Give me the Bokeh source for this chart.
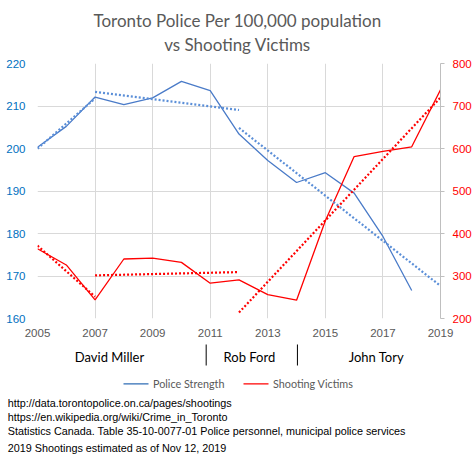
import numpy as np
from bokeh.plotting import figure
from bokeh.layouts import column
from bokeh.models import Range1d, LinearAxis, Label, FixedTicker
from bokeh.embed import file_html
from bokeh.resources import INLINE

# ---------------- data ----------------
years = list(range(2005, 2020))
police_years = list(range(2005, 2019))
police_strength = [200.3, 205.2, 212.1, 210.3, 211.9, 215.8, 213.6,
                   203.4, 197.2, 192.0, 194.3, 189.5, 179.3, 166.6]
shooting_victims = [364, 326, 244, 340, 342, 332, 283,
                    291, 256, 243, 430, 581, 593, 604, 738]
trend_segments = [(2005, 2007), (2007, 2012), (2012, 2019)]
x_ticks = [2005, 2007, 2009, 2011, 2013, 2015, 2017, 2019]
left_ticks = [160, 170, 180, 190, 200, 210, 220]
right_ticks = [200, 300, 400, 500, 600, 700, 800]
mayors = ["David Miller", "Rob Ford", "John Tory"]
mayor_centers = [2007.5, 2012.36, 2016.77]
term_breaks = [2010.86, 2014.03]
series_names = ["Police Strength", "Shooting Victims"]
title_lines = ["Toronto Police Per 100,000 population", "vs Shooting Victims"]
sources = ["http://data.torontopolice.on.ca/pages/shootings",
           "https://en.wikipedia.org/wiki/Crime_in_Toronto",
           "Statistics Canada. Table  35-10-0077-01 Police personnel, municipal police services",
           "2019 Shootings estimated as of Nov 12, 2019"]

BLUE = "#4a7bc8"
BLUE_DOT = "#5b8fd8"
BLUE_LEG = "#2f6db5"
RED = "#ff0000"
GRID = "#d9d9d9"
GRAY_TXT = "#595959"
W = 476
YPX = 403 / 14.0  # pixels per year on the shared x scale


def px2yr(px):
    return 2005 + (px - 37) / YPX


def blank(height, x_range, y_range):
    f = figure(width=W, height=height, x_range=x_range, y_range=y_range,
               output_backend="svg", toolbar_location=None,
               x_axis_type=None, y_axis_type=None,
               min_border_left=0, min_border_right=0,
               min_border_top=0, min_border_bottom=0, frame_align=False)
    f.outline_line_color = None
    f.grid.visible = False
    return f


# ---------------- title ----------------
pt = blank(57, Range1d(0, W), Range1d(57, 0))
for t, yb in zip(title_lines, [19.5, 44.0]):
    pt.add_layout(Label(x=237, y=yb, text=t, text_align="center",
                        text_baseline="alphabetic", text_font="Lato",
                        text_font_size="17px", text_color=GRAY_TXT))

# ---------------- main chart ----------------
p = figure(width=W, height=283, x_range=Range1d(2005, 2019),
           y_range=Range1d(160, 220), output_backend="svg",
           toolbar_location=None, min_border_left=37, min_border_right=36,
           min_border_top=6, min_border_bottom=22, frame_align=False)
p.extra_y_ranges = {"right": Range1d(200, 800)}
p.outline_line_color = None

xa = p.xaxis[0]
xa.ticker = FixedTicker(ticks=x_ticks)
xa.axis_line_color = None
xa.major_tick_line_color = None
xa.major_tick_out = 0
xa.major_tick_in = 0
xa.minor_tick_line_color = None
xa.major_label_text_color = GRAY_TXT
xa.major_label_text_font = "Liberation Sans"
xa.major_label_text_font_size = "11.5px"
xa.major_label_standoff = 10

ya = p.yaxis[0]
ya.ticker = FixedTicker(ticks=left_ticks)
ya.axis_line_color = None
ya.major_tick_line_color = None
ya.major_tick_out = 0
ya.major_tick_in = 0
ya.minor_tick_line_color = None
ya.major_label_text_color = "#0070c0"
ya.major_label_text_font = "Liberation Sans"
ya.major_label_text_font_size = "11.5px"
ya.major_label_standoff = 12

ra = LinearAxis(y_range_name="right", ticker=FixedTicker(ticks=right_ticks))
ra.axis_line_color = "#bfbfbf"
ra.major_tick_line_color = "#bfbfbf"
ra.major_tick_out = 4
ra.major_tick_in = 0
ra.minor_tick_line_color = None
ra.major_label_text_color = RED
ra.major_label_text_font = "Liberation Sans"
ra.major_label_text_font_size = "11.5px"
ra.major_label_standoff = 8
p.add_layout(ra, "right")

p.xgrid.grid_line_color = GRID
p.ygrid.grid_line_color = GRID

p.line(police_years, police_strength, line_color=BLUE, line_width=1.3)
p.line(years, shooting_victims, line_color=RED, line_width=1.3,
       y_range_name="right")


def trend(xs, ys, a, b):
    sel = [(x, y) for x, y in zip(xs, ys) if a <= x <= b]
    sx = np.array([s[0] for s in sel], dtype=float)
    sy = np.array([s[1] for s in sel], dtype=float)
    k, c = np.polyfit(sx, sy, 1)
    return [a, b], [k * a + c, k * b + c]


for a, b in trend_segments:
    tx, ty = trend(police_years, police_strength, a, b)
    p.line(tx, ty, line_color=BLUE_DOT, line_width=2.2, line_dash="2 2")
    tx, ty = trend(years, shooting_victims, a, b)
    p.line(tx, ty, line_color=RED, line_width=2.2, line_dash="2 2",
           y_range_name="right")

# ---------------- bottom: mayors, legend, sources ----------------
pb = blank(117, Range1d(px2yr(0), px2yr(W)), Range1d(117, 0))
for name, cx in zip(mayors, mayor_centers):
    pb.add_layout(Label(x=cx, y=16, text=name, text_align="center",
                        text_baseline="middle", text_font="Lato",
                        text_font_size="13px", text_color="black"))
pb.segment(x0=term_breaks, x1=term_breaks, y0=[4] * 2, y1=[25] * 2,
           line_color="black", line_width=1)

# legend (drawn by hand)
leg_glyph_left = [123, 243]
for name, col, gx in zip(series_names, [BLUE_LEG, RED], leg_glyph_left):
    pb.segment(x0=[px2yr(gx)], x1=[px2yr(gx + 25)], y0=[43.3], y1=[43.3],
               line_color=col, line_width=1.3)
    pb.add_layout(Label(x=px2yr(gx + 29.5), y=43.3, text=name,
                        text_align="left", text_baseline="middle",
                        text_font="Lato", text_font_size="10.8px",
                        text_color=GRAY_TXT))

for t, yc in zip(sources, [62.7, 76.0, 90.7, 107.3]):
    pb.add_layout(Label(x=px2yr(7.3), y=yc, text=t,
                        text_align="left", text_baseline="middle",
                        text_font="Liberation Sans", text_font_size="10.8px",
                        text_color="black"))

layout = column(pt, p, pb, spacing=0)
open("out.html", "w").write(file_html(layout, INLINE))
